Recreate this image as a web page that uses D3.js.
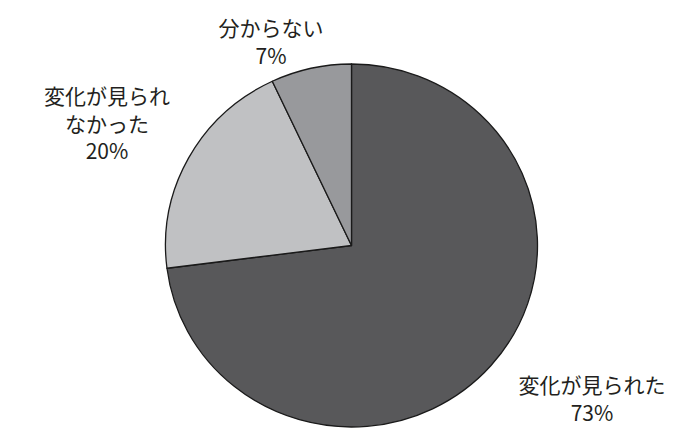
<!DOCTYPE html>
<html>
<head>
<meta charset="utf-8">
<script src="https://cdn.jsdelivr.net/npm/d3@7"></script>
<style>
  html, body { margin: 0; padding: 0; background: #fff; }
  #chart { width: 700px; height: 444px; }
  text { font-family: "Noto Sans CJK JP", "Noto Sans", sans-serif; fill: #231f20; }
</style>
</head>
<body>
<div id="chart"></div>
<script>
// slice data, clockwise from 12 o'clock
var categories = ["変化が見られた", "変化が見られなかった", "分からない"];
var values = [73, 20, 7];
var labelLines = [["変化が見られた", "73%"], ["変化が見られ", "なかった", "20%"], ["分からない", "7%"]];
var colors = ["#58585a", "#c0c1c3", "#98999c"];

// label anchors (centre x, first baseline y)
var labelAnchors = [[592, 393], [107, 104], [271, 36]];

const width = 700, height = 444;
const cx = 351.5, cy = 245.5, rx = 186, ry = 181.5;

var svg = d3.select("#chart")
  .append("svg")
  .attr("width", width)
  .attr("height", height);

var pie = d3.pie().sort(null).value((d, i) => values[i]);
var arc = d3.arc().innerRadius(0).outerRadius(ry);

var slices = svg.append("g")
  .attr("transform", "translate(" + cx + "," + cy + ") scale(" + (rx / ry) + ",1)");

slices.selectAll("path")
  .data(pie(categories))
  .enter()
  .append("path")
  .attr("d", arc)
  .attr("fill", (d, i) => colors[i])
  .attr("stroke", "#1a1a1a")
  .attr("stroke-width", 1.3)
  .attr("vector-effect", "non-scaling-stroke")
  .attr("stroke-linejoin", "round");

// labels
var labels = svg.append("g")
  .selectAll("text")
  .data(labelLines)
  .enter()
  .append("text")
  .attr("text-anchor", "middle")
  .attr("font-size", "21px")
  .attr("transform", (d, i) => "translate(" + labelAnchors[i][0] + "," + labelAnchors[i][1] + ")");

labels.selectAll("tspan")
  .data(d => d)
  .enter()
  .append("tspan")
  .attr("x", 0)
  .attr("y", (d, j) => j * 27.5)
  .text(d => d);
</script>
</body>
</html>
